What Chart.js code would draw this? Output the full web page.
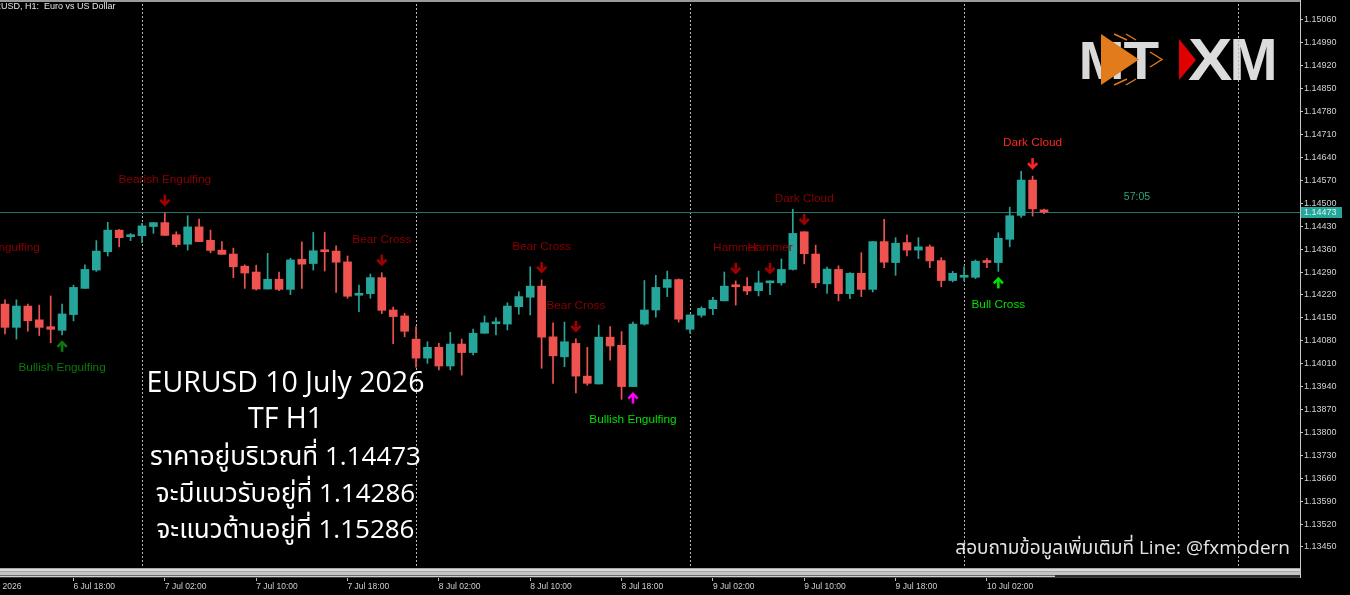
<!DOCTYPE html>
<html>
<head>
<meta charset="utf-8">
<title>EURUSD H1</title>
<script src="https://cdn.jsdelivr.net/npm/chart.js@4.4.1/dist/chart.umd.min.js"></script>
<style>
  html, body { margin: 0; padding: 0; background: #000; overflow: hidden; }
  #wrap { width: 1350px; height: 595px; }
  canvas { display: block; }
</style>
</head>
<body>
<div id="wrap"><canvas id="chart" width="1350" height="595"></canvas></div>
<script>
// hourly candles, first one is 6 Jul 12:00
const opens = [
  1.14192, 1.14121, 1.14186, 1.14144, 1.14123, 1.14112, 1.14160, 1.14240, 1.14296, 1.14352,
  1.14418, 1.14398, 1.14401, 1.14429, 1.14441, 1.14404, 1.14375, 1.14428, 1.14387, 1.14357,
  1.14345, 1.14308, 1.14290, 1.14238, 1.14268, 1.14237, 1.14329, 1.14316, 1.14356, 1.14354,
  1.14321, 1.14219, 1.14224, 1.14273, 1.14174, 1.14156, 1.14085, 1.14027, 1.14060, 1.14003,
  1.14070, 1.14044, 1.14103, 1.14132, 1.14131, 1.14184, 1.14213, 1.14247, 1.14092, 1.14031,
  1.14072, 1.13972, 1.13948, 1.14091, 1.14066, 1.13940, 1.14131, 1.14174, 1.14243, 1.14267,
  1.14115, 1.14158, 1.14178, 1.14202, 1.14247, 1.14246, 1.14233, 1.14257, 1.14257, 1.14298,
  1.14413, 1.14345, 1.14254, 1.14298, 1.14224, 1.14286, 1.14237, 1.14383, 1.14319, 1.14380,
  1.14357, 1.14367, 1.14325, 1.14264, 1.14274, 1.14274, 1.14322, 1.14319, 1.14390, 1.14463,
  1.14571, 1.14480
];
const highs = [
  1.14205, 1.14205, 1.14192, 1.14189, 1.14217, 1.14192, 1.14250, 1.14312, 1.14386, 1.14442,
  1.14420, 1.14408, 1.14439, 1.14441, 1.14471, 1.14413, 1.14462, 1.14452, 1.14418, 1.14383,
  1.14363, 1.14312, 1.14311, 1.14347, 1.14290, 1.14332, 1.14382, 1.14411, 1.14411, 1.14370,
  1.14339, 1.14250, 1.14284, 1.14288, 1.14183, 1.14164, 1.14123, 1.14077, 1.14072, 1.14106,
  1.14085, 1.14116, 1.14156, 1.14150, 1.14196, 1.14230, 1.14306, 1.14266, 1.14135, 1.14137,
  1.14086, 1.14060, 1.14128, 1.14123, 1.14108, 1.14137, 1.14264, 1.14280, 1.14293, 1.14269,
  1.14159, 1.14184, 1.14213, 1.14290, 1.14263, 1.14273, 1.14293, 1.14263, 1.14330, 1.14482,
  1.14413, 1.14372, 1.14305, 1.14309, 1.14288, 1.14349, 1.14383, 1.14451, 1.14395, 1.14404,
  1.14395, 1.14372, 1.14334, 1.14292, 1.14306, 1.14327, 1.14331, 1.14410, 1.14488, 1.14598,
  1.14583, 1.14482
];
const lows = [
  1.14101, 1.14085, 1.14109, 1.14096, 1.14074, 1.14098, 1.14141, 1.14240, 1.14292, 1.14339,
  1.14367, 1.14386, 1.14380, 1.14408, 1.14402, 1.14367, 1.14357, 1.14383, 1.14349, 1.14344,
  1.14273, 1.14240, 1.14235, 1.14238, 1.14233, 1.14221, 1.14240, 1.14296, 1.14293, 1.14228,
  1.14210, 1.14169, 1.14210, 1.14163, 1.14071, 1.14092, 1.13999, 1.14011, 1.13991, 1.13991,
  1.13975, 1.14037, 1.14103, 1.14098, 1.14113, 1.14161, 1.14159, 1.13996, 1.13950, 1.14001,
  1.13921, 1.13944, 1.13948, 1.14021, 1.13901, 1.13940, 1.14128, 1.14152, 1.14215, 1.14137,
  1.14103, 1.14152, 1.14160, 1.14202, 1.14189, 1.14221, 1.14217, 1.14221, 1.14250, 1.14296,
  1.14315, 1.14242, 1.14225, 1.14202, 1.14209, 1.14215, 1.14229, 1.14303, 1.14280, 1.14339,
  1.14331, 1.14303, 1.14245, 1.14260, 1.14264, 1.14270, 1.14303, 1.14292, 1.14367, 1.14457,
  1.14461, 1.14468
];
const closes = [
  1.14121, 1.14186, 1.14141, 1.14121, 1.14115, 1.14162, 1.14243, 1.14298, 1.14354, 1.14418,
  1.14395, 1.14400, 1.14431, 1.14441, 1.14402, 1.14374, 1.14428, 1.14383, 1.14356, 1.14344,
  1.14306, 1.14287, 1.14238, 1.14268, 1.14237, 1.14327, 1.14314, 1.14355, 1.14352, 1.14320,
  1.14216, 1.14224, 1.14273, 1.14173, 1.14154, 1.14109, 1.14027, 1.14060, 1.14003, 1.14070,
  1.14044, 1.14103, 1.14135, 1.14134, 1.14186, 1.14215, 1.14247, 1.14091, 1.14034, 1.14077,
  1.13972, 1.13950, 1.14091, 1.14064, 1.13940, 1.14131, 1.14174, 1.14243, 1.14267, 1.14146,
  1.14159, 1.14179, 1.14204, 1.14247, 1.14245, 1.14232, 1.14257, 1.14260, 1.14298, 1.14408,
  1.14346, 1.14257, 1.14299, 1.14224, 1.14286, 1.14237, 1.14383, 1.14320, 1.14378, 1.14357,
  1.14367, 1.14324, 1.14264, 1.14286, 1.14276, 1.14323, 1.14319, 1.14393, 1.14462, 1.14571,
  1.14483, 1.14473
];

const lastPrice = 1.14473;
const countdown = "57:05";

// price axis ticks
const yTicks = [
  1.15060, 1.14990, 1.14920, 1.14850, 1.14780, 1.14710, 1.14640, 1.14570, 1.14500, 1.14430,
  1.14360, 1.14290, 1.14220, 1.14150, 1.14080, 1.14010, 1.13940, 1.13870, 1.13800, 1.13730,
  1.13660, 1.13590, 1.13520, 1.13450
];

// time axis (candle index -> label)
const timeTickIdx = [-2, 6, 14, 22, 30, 38, 46, 54, 62, 70, 78, 86];
const timeTickLabels = [
  "6 Jul 2026", "6 Jul 18:00", "7 Jul 02:00", "7 Jul 10:00", "7 Jul 18:00", "8 Jul 02:00",
  "8 Jul 10:00", "8 Jul 18:00", "9 Jul 02:00", "9 Jul 10:00", "9 Jul 18:00", "10 Jul 02:00"
];
const daySeparators = [12, 36, 60, 84, 108];

// pattern signals
const sigIndex = [-1, 5, 14, 33, 47, 50, 55, 64, 67, 70, 87, 90];
const sigText = [
  "Bearish Engulfing", "Bullish Engulfing", "Bearish Engulfing", "Bear Cross", "Bear Cross",
  "Bear Cross", "Bullish Engulfing", "Hammer", "Hammer", "Dark Cloud", "Bull Cross", "Dark Cloud"
];
const sigDir = ["down", "up", "down", "down", "down", "down", "up", "down", "down", "down", "up", "down"];
const sigTone = [
  "bearDark", "bullDark", "bearDark", "bearDark", "bearDark", "bearDark",
  "bullMagenta", "bearDark", "bearDark", "bearDark", "bullLime", "bearBright"
];
// anchor for the signal whose candle is off screen (left edge)
const sigAnchor = [1.14263, null, null, null, null, null, null, null, null, null, null, null];

const infoLines = [
  "EURUSD 10 July 2026",
  "TF H1",
  "ราคาอยู่บริเวณที่ 1.14473",
  "จะมีแนวรับอยู่ที่ 1.14286",
  "จะแนวต้านอยู่ที่ 1.15286"
];
const footerText = "สอบถามข้อมูลเพิ่มเติมที่ Line: @fxmodern";

const UP = "#26a69a";
const DOWN = "#ef5350";
const toneColors = {
  bearDark: { text: "#8b0000", arrow: "#a00000" },
  bearBright: { text: "#ff2424", arrow: "#ff2424" },
  bullDark: { text: "#0b7a0b", arrow: "#0b7a0b" },
  bullLime: { text: "#00e000", arrow: "#00e000" },
  bullMagenta: { text: "#00e000", arrow: "#ff00ff" }
};

const candleColors = opens.map((o, i) => (closes[i] >= o ? UP : DOWN));

function drawArrow(ctx, x, tipY, dir, color) {
  const s = dir === "down" ? 1 : -1;
  ctx.save();
  ctx.strokeStyle = color;
  ctx.lineWidth = 2.6;
  ctx.lineCap = "butt";
  ctx.lineJoin = "miter";
  ctx.beginPath();
  ctx.moveTo(x, tipY - s * 11);
  ctx.lineTo(x, tipY - s * 1.5);
  ctx.stroke();
  ctx.beginPath();
  ctx.moveTo(x - 4.6, tipY - s * 6);
  ctx.lineTo(x, tipY - s * 1.2);
  ctx.lineTo(x + 4.6, tipY - s * 6);
  ctx.stroke();
  ctx.restore();
}

function drawLetter(ctx, ch, x0, x1, yTop, yBot, color) {
  ctx.save();
  ctx.font = 'bold 100px "Liberation Sans", Arial, sans-serif';
  ctx.textAlign = "left";
  ctx.textBaseline = "alphabetic";
  const m = ctx.measureText(ch);
  const w = m.actualBoundingBoxLeft + m.actualBoundingBoxRight;
  const h = m.actualBoundingBoxAscent + m.actualBoundingBoxDescent;
  ctx.translate(x0, yTop);
  ctx.scale((x1 - x0) / w, (yBot - yTop) / h);
  ctx.fillStyle = color;
  ctx.fillText(ch, m.actualBoundingBoxLeft, m.actualBoundingBoxAscent);
  ctx.restore();
}

function drawLogo(ctx) {
  const grey = "#d9d9d9";
  const orange = "#e27b1c";
  drawLetter(ctx, "M", 1082, 1121, 41, 79, grey);
  drawLetter(ctx, "T", 1124, 1159, 41, 79, grey);
  ctx.save();
  ctx.fillStyle = orange;
  ctx.beginPath();
  ctx.moveTo(1101, 34);
  ctx.lineTo(1101, 85);
  ctx.lineTo(1139, 59.5);
  ctx.closePath();
  ctx.fill();
  ctx.strokeStyle = orange;
  ctx.lineWidth = 1.4;
  [[1114, 34, 1127, 40], [1126, 34, 1136, 40], [1114, 85, 1127, 79], [1126, 85, 1136, 79]].forEach(([ax, ay, bx, by]) => {
    ctx.beginPath();
    ctx.moveTo(ax, ay);
    ctx.lineTo(bx, by);
    ctx.stroke();
  });
  ctx.beginPath();
  ctx.moveTo(1150, 52);
  ctx.lineTo(1162, 59.5);
  ctx.lineTo(1150, 67);
  ctx.stroke();
  ctx.restore();

  drawLetter(ctx, "X", 1188, 1232, 39, 80, "#dcdcdc");
  drawLetter(ctx, "M", 1233, 1274, 39, 80, "#dcdcdc");
  ctx.save();
  ctx.fillStyle = "#e00000";
  ctx.beginPath();
  ctx.moveTo(1179, 39);
  ctx.lineTo(1179, 80);
  ctx.lineTo(1196, 60);
  ctx.closePath();
  ctx.fill();
  ctx.restore();
}

const mtDecor = {
  id: "mtDecor",
  beforeDraw(chart) {
    const ctx = chart.ctx;
    ctx.save();
    ctx.fillStyle = "#000";
    ctx.fillRect(0, 0, chart.width, chart.height);
    ctx.restore();
  },
  beforeDatasetsDraw(chart) {
    const { ctx, chartArea, scales } = chart;
    drawLogo(ctx);
    ctx.save();
    // day separators
    ctx.strokeStyle = "#b8b8b8";
    ctx.lineWidth = 1;
    ctx.setLineDash([2, 2]);
    daySeparators.forEach(i => {
      const x = Math.round(scales.x.getPixelForValue(i)) + 0.5;
      ctx.beginPath();
      ctx.moveTo(x, chartArea.top);
      ctx.lineTo(x, chartArea.bottom);
      ctx.stroke();
    });
    ctx.setLineDash([]);
    // bid line
    const py = Math.round(scales.y.getPixelForValue(lastPrice)) + 0.5;
    ctx.strokeStyle = "#21766d";
    ctx.beginPath();
    ctx.moveTo(chartArea.left, py);
    ctx.lineTo(chartArea.right, py);
    ctx.stroke();
    ctx.restore();
  },
  afterDatasetsDraw(chart) {
    const { ctx, scales } = chart;
    ctx.save();
    // signals
    ctx.font = '11.8px "Liberation Sans", Arial, sans-serif';
    ctx.textAlign = "center";
    ctx.textBaseline = "middle";
    sigIndex.forEach((ci, k) => {
      const x = scales.x.getPixelForValue(ci);
      const tone = toneColors[sigTone[k]];
      if (sigDir[k] === "down") {
        const anchor = sigAnchor[k] !== null ? sigAnchor[k] : highs[ci];
        const tip = scales.y.getPixelForValue(anchor) - 7;
        drawArrow(ctx, x, tip, "down", tone.arrow);
        ctx.fillStyle = tone.text;
        ctx.fillText(sigText[k], x, tip - 26);
      } else {
        const anchor = sigAnchor[k] !== null ? sigAnchor[k] : lows[ci];
        const tip = scales.y.getPixelForValue(anchor) + 6;
        drawArrow(ctx, x, tip, "up", tone.arrow);
        ctx.fillStyle = tone.text;
        ctx.fillText(sigText[k], x, tip + 27);
      }
    });

    // countdown to bar close
    ctx.font = '10.5px "Liberation Sans", Arial, sans-serif';
    ctx.fillStyle = "#2aa57c";
    ctx.fillText(countdown, 1137, scales.y.getPixelForValue(lastPrice) - 15);

    // symbol header
    ctx.font = '9px "Liberation Sans", Arial, sans-serif';
    ctx.textAlign = "left";
    ctx.fillStyle = "#e6e6e6";
    const head = "EURUSD, H1:  Euro vs US Dollar";
    ctx.fillText(head, -ctx.measureText("EUR").width + 1, 7);

    // info block
    ctx.textAlign = "center";
    ctx.textBaseline = "alphabetic";
    ctx.fillStyle = "#ffffff";
    infoLines.forEach((t, k) => {
      const size = k < 2 ? 28.5 : 26;
      ctx.font = size + 'px "Open Sans", "Noto Sans", "Noto Sans Thai", sans-serif';
      ctx.fillText(t, 285.5, 391.5 + k * 36.7);
    });

    // footer
    ctx.font = '19px "Open Sans", "Noto Sans", "Noto Sans Thai", sans-serif';
    ctx.textAlign = "right";
    ctx.fillStyle = "#e4e4e4";
    ctx.fillText(footerText, 1290, 554);
    ctx.restore();
  },
  afterDraw(chart) {
    const { ctx, chartArea, scales } = chart;
    const b = chartArea.bottom;
    const r = chartArea.right;
    ctx.save();
    // top frame line
    ctx.fillStyle = "#9a9a9a";
    ctx.fillRect(0, 0, r, 2);
    // bottom scroll strip
    ctx.fillStyle = "#a8a8a8";
    ctx.fillRect(0, b, r, 10);
    ctx.fillStyle = "#dadada";
    ctx.fillRect(0, b + 1, r, 2);
    ctx.fillStyle = "#c4c4c4";
    ctx.fillRect(0, b + 4, r, 3);
    ctx.fillStyle = "#6e6e6e";
    ctx.fillRect(0, b + 7, r, 1);
    ctx.fillStyle = "#d0d0d0";
    ctx.fillRect(0, b + 8, 1055, 1);
    ctx.fillStyle = "#2c2c2c";
    ctx.fillRect(1055, b + 7, r - 1055, 3);
    ctx.fillStyle = "#3a3a3a";
    ctx.fillRect(0, b + 9, r, 1);
    // axis line continues through the strip
    ctx.fillStyle = "#c8c8c8";
    ctx.fillRect(r, 0, 1, b + 10);
    // bid label on price axis
    const py = Math.round(scales.y.getPixelForValue(lastPrice));
    ctx.fillStyle = UP;
    ctx.fillRect(r + 1, py - 5, 41, 11);
    ctx.font = '9px "Liberation Sans", Arial, sans-serif';
    ctx.textAlign = "left";
    ctx.textBaseline = "middle";
    ctx.fillStyle = "#d8f1ee";
    ctx.fillText(lastPrice.toFixed(5), r + 4, py + 0.5);
    ctx.restore();
  }
};

const idx = opens.map((_, i) => i);
const wickData = idx.map(i => ({ x: i, y: [lows[i], highs[i]] }));
const bodyData = idx.map(i => ({ x: i, y: [opens[i], closes[i]] }));

const xMin = -0.438;
const xMax = 113.42;
const yMin = 1.133858;
const yMax = 1.151211;

new Chart(document.getElementById("chart"), {
  type: "bar",
  data: {
    datasets: [
      {
        label: "wick",
        data: wickData,
        backgroundColor: candleColors,
        barThickness: 1,
        grouped: false,
        borderWidth: 0
      },
      {
        label: "body",
        data: bodyData,
        backgroundColor: candleColors,
        barThickness: 8,
        minBarLength: 2,
        grouped: false,
        borderWidth: 0
      }
    ]
  },
  options: {
    responsive: false,
    animation: false,
    devicePixelRatio: 1,
    layout: { padding: 0 },
    plugins: {
      legend: { display: false },
      tooltip: { enabled: false }
    },
    scales: {
      x: {
        type: "linear",
        min: xMin,
        max: xMax,
        offset: false,
        afterBuildTicks: scale => {
          scale.ticks = timeTickIdx.map(v => ({ value: v }));
        },
        afterFit: scale => {
          scale.height = 27;
          scale.paddingLeft = 0;
          scale.paddingRight = 0;
        },
        grid: {
          offset: false,
          drawOnChartArea: false,
          drawTicks: true,
          tickLength: 13,
          color: "#bdbdbd"
        },
        border: { display: false },
        ticks: {
          autoSkip: false,
          maxRotation: 0,
          minRotation: 0,
          align: "start",
          padding: 1,
          color: "#cfcfcf",
          font: { family: '"Liberation Sans", Arial, sans-serif', size: 8.5 },
          callback: (value, index) => timeTickLabels[index]
        }
      },
      y: {
        position: "right",
        min: yMin,
        max: yMax,
        afterBuildTicks: scale => {
          scale.ticks = yTicks.map(v => ({ value: v }));
        },
        afterFit: scale => {
          scale.width = 50;
          scale.paddingTop = 0;
          scale.paddingBottom = 0;
        },
        grid: {
          drawOnChartArea: false,
          drawTicks: true,
          tickLength: 3,
          color: "#c8c8c8"
        },
        border: { display: true, color: "#c8c8c8" },
        ticks: {
          padding: 1,
          color: "#d2d2d2",
          font: { family: '"Liberation Sans", Arial, sans-serif', size: 9 },
          callback: value => Number(value).toFixed(5)
        }
      }
    }
  },
  plugins: [mtDecor]
});
</script>
</body>
</html>
